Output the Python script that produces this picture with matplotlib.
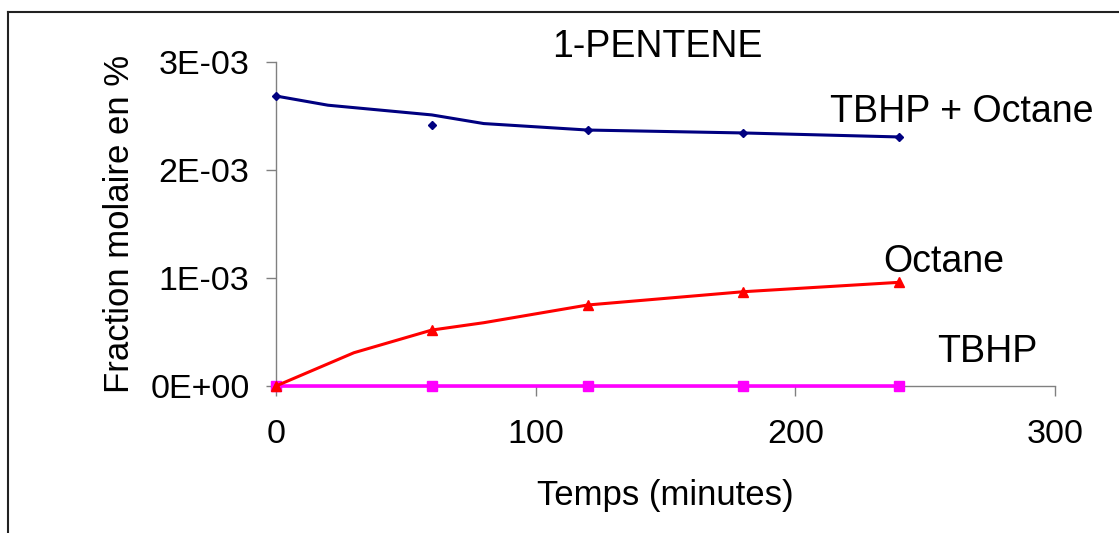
import matplotlib
matplotlib.use("Agg")
import matplotlib.pyplot as plt
from matplotlib.lines import Line2D
from matplotlib.ticker import FuncFormatter

plt.rcParams['font.family'] = ['Liberation Sans', 'DejaVu Sans']

# ---- data ----
marker_time = [0, 60, 120, 180, 240]
tbhp_octane_pts = [2.685e-3, 2.417e-3, 2.37e-3, 2.343e-3, 2.306e-3]
octane_pts = [0.0, 0.518e-3, 0.75e-3, 0.873e-3, 0.96e-3]
tbhp_pts = [0.0, 0.0, 0.0, 0.0, 0.0]

tbhp_octane_line_time = [0, 20, 60, 80, 120, 180, 240]
tbhp_octane_line = [2.685e-3, 2.60e-3, 2.51e-3, 2.43e-3, 2.37e-3, 2.343e-3, 2.306e-3]
octane_line_time = [0, 30, 60, 80, 120, 180, 240]
octane_line = [0.0, 0.308e-3, 0.518e-3, 0.586e-3, 0.75e-3, 0.873e-3, 0.96e-3]

x_ticks = [0, 100, 200, 300]
y_ticks = [0.0, 1e-3, 2e-3, 3e-3]

title = "1-PENTENE"
xlabel = "Temps (minutes)"
ylabel = "Fraction molaire en %"
series_labels = ["TBHP + Octane", "Octane", "TBHP"]

W, H = 1119, 533
FS_TEXT = 27
FS_LABEL = 25
FS_TICK = 24.5
fig = plt.figure(figsize=(W / 100, H / 100), dpi=100)
ax = fig.add_axes([276 / W, 1 - 386 / H, (1055 - 276) / W, (386 - 62) / H])

navy = "#000080"
red = "#FF0000"
magenta = "#FF00FF"

# lines
ax.plot(tbhp_octane_line_time, tbhp_octane_line, color=navy, lw=2.2, zorder=3,
        solid_joinstyle='round', clip_on=False)
ax.plot(marker_time, tbhp_octane_pts, ls='none', marker='D', ms=4.5, color=navy,
        zorder=4, clip_on=False)
ax.plot(marker_time, tbhp_pts, color=magenta, lw=2.6, marker='s', ms=6.5, zorder=3,
        clip_on=False)
ax.plot(octane_line_time, octane_line, color=red, lw=2.2, zorder=4, clip_on=False)
ax.plot(marker_time, octane_pts, ls='none', marker='^', ms=7.5, color=red, zorder=5,
        clip_on=False)

ax.set_xlim(0, 300)
ax.set_ylim(0, 3e-3)
ax.set_xticks(x_ticks)
ax.set_yticks(y_ticks)
ax.yaxis.set_major_formatter(FuncFormatter(lambda v, p: f"{v:.0E}"))
ax.xaxis.set_major_formatter(FuncFormatter(lambda v, p: f"{v:.0f}"))

for s in ['top', 'right']:
    ax.spines[s].set_visible(False)
for s in ['left', 'bottom']:
    ax.spines[s].set_color('#808080')
    ax.spines[s].set_linewidth(1.0)
    ax.spines[s].set_zorder(1)
ax.tick_params(axis='both', direction='out', length=7, width=1.0, color='#808080',
               labelsize=FS_TICK)
ax.tick_params(axis='x', pad=17)
ax.tick_params(axis='y', pad=12)

ax.set_xlabel(xlabel, fontsize=FS_LABEL, labelpad=21)
ax.set_ylabel(ylabel, fontsize=FS_LABEL, labelpad=10)

fig.text(657 / W, 1 - 47 / H, title, fontsize=FS_TEXT, ha='center', va='center')

ax.text(213.3, 2.537e-3, series_labels[0], fontsize=FS_TEXT, ha='left', va='center')
ax.text(233.7, 1.148e-3, series_labels[1], fontsize=FS_TEXT, ha='left', va='center')
ax.text(254.5, 0.315e-3, series_labels[2], fontsize=FS_TEXT, ha='left', va='center')

# outer frame (left and top edges visible)
fig.add_artist(Line2D([8 / W, 8 / W], [0, 1 - 12 / H], transform=fig.transFigure,
                      color='#222222', lw=1.5))
fig.add_artist(Line2D([8 / W, 1], [1 - 12 / H, 1 - 12 / H], transform=fig.transFigure,
                      color='#222222', lw=1.5))

fig.savefig("out.png", dpi=100)
